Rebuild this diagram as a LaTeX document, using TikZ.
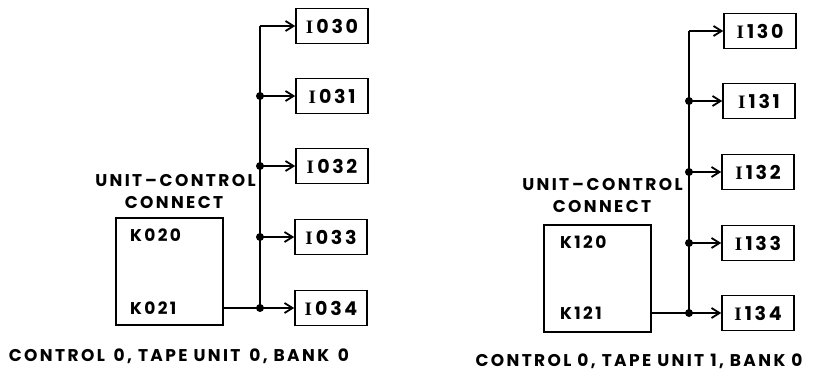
\documentclass[tikz,border=0pt]{standalone}
\usepackage{fontspec}
\setmainfont{Poppins}
\newfontfamily\lettering[LetterSpace=14]{Poppins}
\newfontfamily\serifface{Liberation Serif}
\newcommand{\sI}{{\serifface\bfseries I}}
\usetikzlibrary{arrows.meta}
\begin{document}
\begin{tikzpicture}[x=1pt,y=-1pt,
  lbl/.style={font=\lettering\bfseries\fontsize{17}{17}\selectfont, inner sep=0pt},
  ilbl/.style={font=\lettering\bfseries\fontsize{19}{19}\selectfont},
  ibox/.style={draw, line width=1.6pt, minimum width=72pt, minimum height=35pt, inner sep=0pt, ilbl},
  kbox/.style={draw, line width=1.6pt, minimum width=107pt, minimum height=107pt, inner sep=0pt},
  wire/.style={line width=1.8pt},
  arr/.style={wire, -{Straight Barb[length=8pt,width=10pt]}},
  dot/.style={circle, fill, inner sep=0pt, minimum size=8pt}
]
\useasboundingbox (0,0) rectangle (817,375);
% ---------------- left diagram ----------------
\node[kbox] (ka) at (169.5,271.5) {};
\node[lbl, anchor=west] (ka0) at (130,235) {K020};
\node[lbl, anchor=west] (ka1) at (130,308) {K021};
\node[lbl] (uca) at (175.5,181) {UNIT\,–\,CONTROL};
\node[lbl] (cca) at (174,203) {CONNECT};
\node[ibox] (ia0) at (332,26) {\sI\,030};
\node[ibox] (ia1) at (332,96) {\sI\,031};
\node[ibox] (ia2) at (332,166) {\sI\,032};
\node[ibox] (ia3) at (331,237) {\sI\,033};
\node[ibox] (ia4) at (331,308) {\sI\,034};
\coordinate (ba0) at (260,26);
\node[dot] (ba1) at (260,96) {};
\node[dot] (ba2) at (260,166) {};
\node[dot] (ba3) at (260,237) {};
\node[dot] (ba4) at (260,308) {};
\draw[wire] (ka.east |- ka1) -- (ba4.center);
\draw[wire] (ba4.center) -- (ba0);
\draw[arr] (ba0) -- (ia0.west);
\draw[arr] (ba1.center) -- (ia1.west);
\draw[arr] (ba2.center) -- (ia2.west);
\draw[arr] (ba3.center) -- (ia3.west);
\draw[arr] (ba4.center) -- (ia4.west);
\node[lbl] (capa) at (179,356) {CONTROL\, 0, TAPE UNIT\, 0, BANK\, 0};
% ---------------- right diagram ----------------
\node[kbox] (kb) at (597.5,278.5) {};
\node[lbl, anchor=west] (kb0) at (560,242) {K120};
\node[lbl, anchor=west] (kb1) at (560,313) {K121};
\node[lbl] (ucb) at (602.5,185) {UNIT\,–\,CONTROL};
\node[lbl] (ccb) at (602,207) {CONNECT};
\node[ibox] (ib0) at (760,31) {\sI\,130};
\node[ibox] (ib1) at (759,101) {\sI\,131};
\node[ibox] (ib2) at (758,172) {\sI\,132};
\node[ibox] (ib3) at (758,243) {\sI\,133};
\node[ibox] (ib4) at (758,313) {\sI\,134};
\coordinate (bb0) at (689,31);
\node[dot] (bb1) at (689,101) {};
\node[dot] (bb2) at (689,172) {};
\node[dot] (bb3) at (689,243) {};
\node[dot] (bb4) at (689,313) {};
\draw[wire] (kb.east |- kb1) -- (bb4.center);
\draw[wire] (bb4.center) -- (bb0);
\draw[arr] (bb0) -- (ib0.west);
\draw[arr] (bb1.center) -- (ib1.west);
\draw[arr] (bb2.center) -- (ib2.west);
\draw[arr] (bb3.center) -- (ib3.west);
\draw[arr] (bb4.center) -- (ib4.west);
\node[lbl] (capb) at (639,361) {CONTROL 0, TAPE UNIT 1, BANK 0};
\end{tikzpicture}
\end{document}
